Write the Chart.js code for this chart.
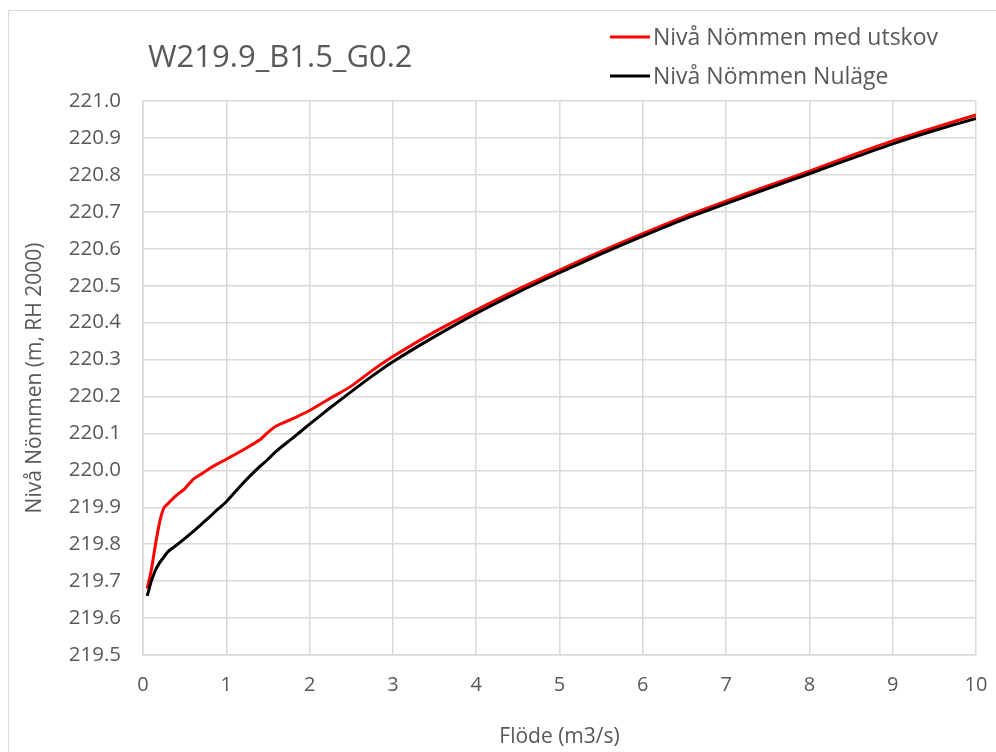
<!DOCTYPE html>
<html>
<head>
<meta charset="utf-8">
<script src="https://cdn.jsdelivr.net/npm/chart.js@4"></script>
<style>
  html, body { margin: 0; padding: 0; background: #ffffff; }
  #wrap { position: relative; width: 996px; height: 752px; overflow: hidden; }
  #frame { position: absolute; left: 8px; top: 10px; width: 1000px; height: 800px; border-top: 1.5px solid #d9d9d9; border-left: 1.5px solid #d9d9d9; box-sizing: border-box; }
  canvas { position: absolute; left: 0; top: 0; }
</style>
</head>
<body>
<div id="wrap">
  <div id="frame"></div>
  <canvas id="c" width="996" height="752"></canvas>
</div>
<script>
const chartTitle = "W219.9_B1.5_G0.2";
const xTitle = "Flöde (m3/s)";
const yTitle = "Nivå Nömmen (m, RH 2000)";
const seriesNames = ["Nivå Nömmen med utskov", "Nivå Nömmen Nuläge"];

const flow = [0.05,0.1,0.15,0.2,0.25,0.3,0.4,0.5,0.6,0.7,0.8,0.9,1.0,1.2,1.4,1.5,1.6,1.8,2.0,2.25,2.5,2.75,3,3.5,4,4.5,5,5.5,6,6.5,7,7.5,8,8.5,9,9.5,10];
const levelUtskov = [219.68,219.73,219.80,219.86,219.898,219.91,219.932,219.95,219.975,219.99,220.005,220.018,220.03,220.055,220.082,220.103,220.12,220.14,220.162,220.195,220.228,220.27,220.308,220.375,220.434,220.49,220.542,220.593,220.641,220.687,220.729,220.77,220.81,220.852,220.892,220.928,220.962];
const levelNulage = [219.66,219.70,219.73,219.75,219.765,219.78,219.797,219.815,219.834,219.854,219.874,219.895,219.915,219.965,220.01,220.03,220.052,220.088,220.125,220.17,220.213,220.255,220.294,220.362,220.425,220.482,220.535,220.586,220.634,220.68,220.722,220.763,220.803,220.844,220.884,220.92,220.953];

const xTicks = [0,1,2,3,4,5,6,7,8,9,10];
const yTicks = [219.5,219.6,219.7,219.8,219.9,220.0,220.1,220.2,220.3,220.4,220.5,220.6,220.7,220.8,220.9,221.0];

const TEXT = '#595959';
const FONT = '"Open Sans", "Noto Sans", sans-serif';

function pts(xs, ys) { return xs.map((x, i) => ({ x: x, y: ys[i] })); }

const decor = {
  id: 'decor',
  afterDraw(chart) {
    const ctx = chart.ctx;
    const ca = chart.chartArea;
    ctx.save();
    ctx.fillStyle = TEXT;
    ctx.font = '31px ' + FONT;
    ctx.textAlign = 'left';
    ctx.textBaseline = 'middle';
    ctx.fillText(chartTitle, 148, 58);
    const ds = chart.data.datasets;
    const legendY = [37, 76];
    ctx.font = '23px ' + FONT;
    for (let i = 0; i < ds.length; i++) {
      ctx.strokeStyle = ds[i].borderColor;
      ctx.lineWidth = 3;
      ctx.beginPath();
      ctx.moveTo(610, legendY[i]);
      ctx.lineTo(650, legendY[i]);
      ctx.stroke();
      ctx.fillStyle = TEXT;
      ctx.fillText(ds[i].label, 653, legendY[i] + 1);
    }
    ctx.font = '21px ' + FONT;
    ctx.textAlign = 'center';
    ctx.fillText(xTitle, (ca.left + ca.right) / 2, 737);
    ctx.translate(35, (ca.top + ca.bottom) / 2);
    ctx.rotate(-Math.PI / 2);
    ctx.fillText(yTitle, 0, 0);
    ctx.restore();
  }
};

new Chart(document.getElementById('c'), {
  type: 'line',
  data: {
    datasets: [
      { label: seriesNames[0], data: pts(flow, levelUtskov), borderColor: '#ff0000', backgroundColor: '#ff0000', borderWidth: 3, pointRadius: 0, tension: 0.2, order: 1 },
      { label: seriesNames[1], data: pts(flow, levelNulage), borderColor: '#000000', backgroundColor: '#000000', borderWidth: 3, pointRadius: 0, tension: 0.2, order: 0 }
    ]
  },
  options: {
    responsive: false,
    animation: false,
    layout: { padding: { left: 0, right: 20, top: 101, bottom: 0 } },
    plugins: { legend: { display: false }, title: { display: false }, tooltip: { enabled: false } },
    scales: {
      x: {
        type: 'linear', min: 0, max: 10,
        afterFit(s) { s.height = 97; s.paddingLeft = 0; s.paddingRight = 0; },
        afterBuildTicks(s) { s.ticks = xTicks.map(v => ({ value: v })); },
        grid: { color: '#d9d9d9', lineWidth: 1.5, drawTicks: false },
        border: { color: '#d9d9d9', width: 1.5 },
        ticks: { color: TEXT, font: { size: 20, family: FONT }, padding: 18, maxRotation: 0, callback: v => String(v) }
      },
      y: {
        type: 'linear', min: 219.5, max: 221.0,
        afterFit(s) { s.width = 143; s.paddingTop = 0; s.paddingBottom = 0; },
        afterBuildTicks(s) { s.ticks = yTicks.map(v => ({ value: v })); },
        grid: { color: '#d9d9d9', lineWidth: 1.5, drawTicks: false },
        border: { color: '#d9d9d9', width: 1.5 },
        ticks: { color: TEXT, font: { size: 20.5, family: FONT }, padding: 22, callback: v => Number(v).toFixed(1) }
      }
    }
  },
  plugins: [decor]
});
</script>
</body>
</html>
